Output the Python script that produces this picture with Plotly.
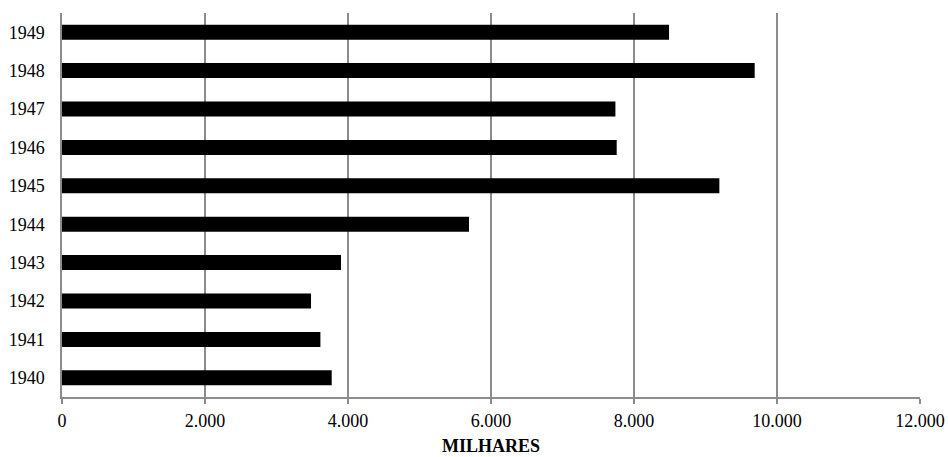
import plotly.graph_objects as go

# Annual values (thousands), 1940-1949
years = ["1940", "1941", "1942", "1943", "1944", "1945", "1946", "1947", "1948", "1949"]
values = [3772, 3614, 3483, 3902, 5692, 9194, 7758, 7740, 9688, 8490]

x_ticks = [0, 2000, 4000, 6000, 8000, 10000, 12000]
x_tick_labels = ["0", "2.000", "4.000", "6.000", "8.000", "10.000", "12.000"]
x_title = "MILHARES"

serif = "Liberation Serif, Times New Roman, serif"
grid_color = "#8c8c8c"

fig = go.Figure(
    go.Bar(
        y=years,
        x=values,
        orientation="h",
        width=0.39,
        marker=dict(color="#000000", line=dict(width=0)),
        hoverinfo="x+y",
    )
)

fig.update_layout(
    width=948,
    height=457,
    margin=dict(l=62, r=28, t=13, b=60, autoexpand=False),
    paper_bgcolor="white",
    plot_bgcolor="white",
    showlegend=False,
    font=dict(family=serif, size=18, color="#000000"),
)

fig.update_xaxes(
    range=[0, 12000],
    tickvals=x_ticks,
    ticktext=x_tick_labels,
    automargin=False,
    showgrid=True,
    gridcolor=grid_color,
    gridwidth=1.5,
    zeroline=False,
    showline=True,
    linecolor=grid_color,
    linewidth=1.5,
    ticks="outside",
    ticklen=5,
    tickwidth=1.5,
    tickcolor=grid_color,
    ticklabelstandoff=2,
    tickfont=dict(family=serif, size=18),
)

fig.update_yaxes(
    type="category",
    categoryorder="array",
    categoryarray=years,
    range=[-0.5, 9.5],
    automargin=False,
    showgrid=False,
    zeroline=False,
    showline=True,
    linecolor=grid_color,
    linewidth=1.5,
    ticks="",
    ticklabelstandoff=12,
    tickfont=dict(family=serif, size=18),
)

# Axis title placed beneath the tick labels
fig.add_annotation(
    text=f"<b>{x_title}</b>",
    xref="paper",
    yref="paper",
    x=0.5,
    y=0,
    yshift=-60,
    xanchor="center",
    yanchor="bottom",
    borderpad=0,
    showarrow=False,
    font=dict(family=serif, size=18, color="#000000"),
)

fig.write_html("out.html")
